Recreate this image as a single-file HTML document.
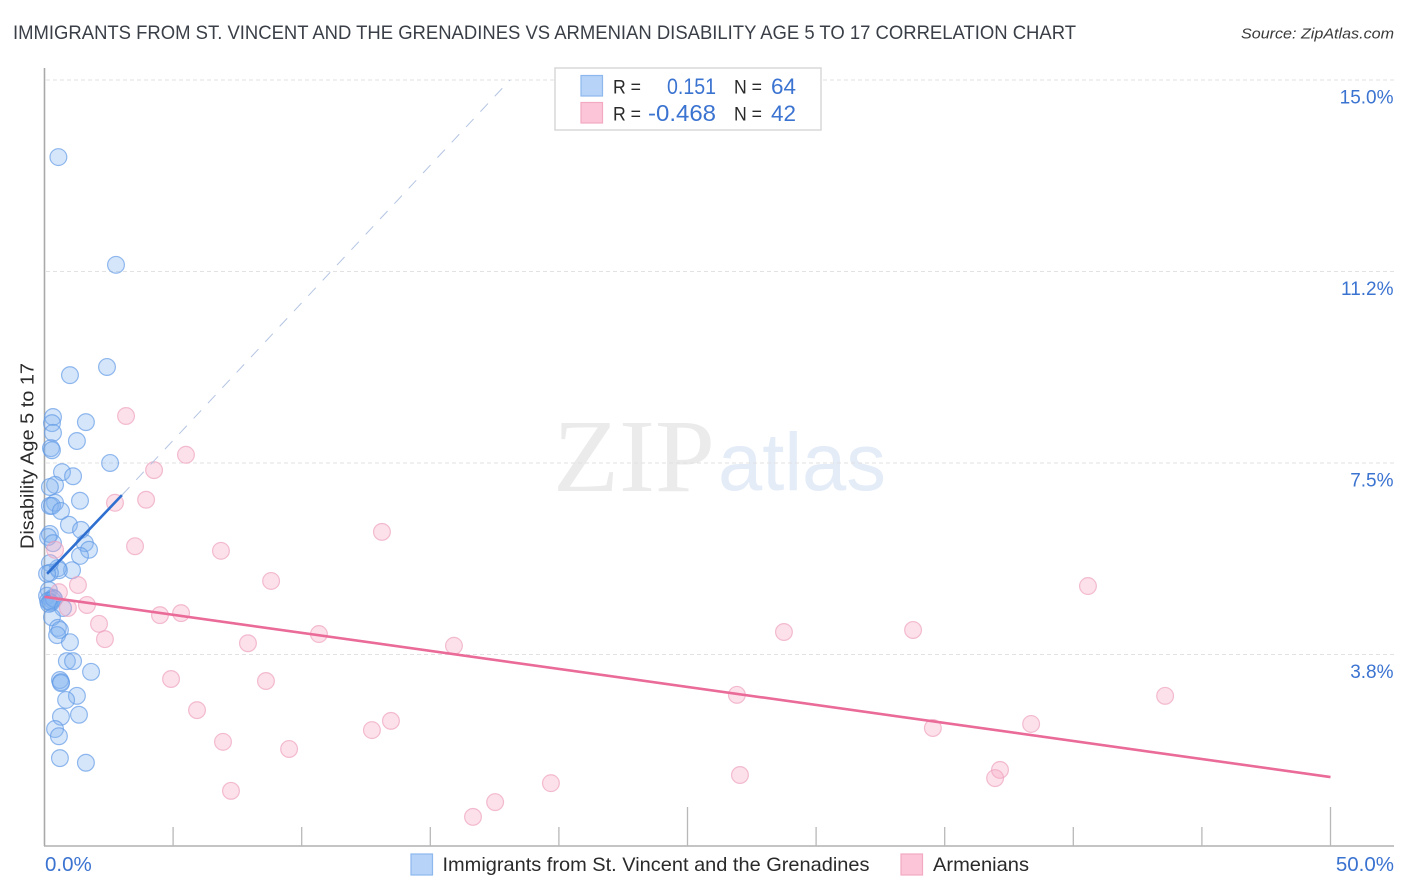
<!DOCTYPE html>
<html lang="en">
<head>
<meta charset="utf-8">
<title>Correlation Chart</title>
<style>
html,body{margin:0;padding:0;background:#fff;width:1406px;height:892px;overflow:hidden}
svg{display:block;font-family:"Liberation Sans",sans-serif}
</style>
</head>
<body>
<svg id="chart" width="1406" height="892" viewBox="0 0 1406 892" xmlns="http://www.w3.org/2000/svg">
  <text x="13" y="39" font-size="19.5" fill="#3a3f47" textLength="1063" lengthAdjust="spacingAndGlyphs">IMMIGRANTS FROM ST. VINCENT AND THE GRENADINES VS ARMENIAN DISABILITY AGE 5 TO 17 CORRELATION CHART</text>
  <text x="1241" y="38.500" font-size="15" font-style="italic" fill="#3a3a3a" textLength="153" lengthAdjust="spacingAndGlyphs">Source: ZipAtlas.com</text>
  <g>
    <text x="553" y="491" font-family="'Liberation Serif',serif" font-size="104" fill="#ebebeb" textLength="162" lengthAdjust="spacingAndGlyphs">ZIP</text>
    <text x="718" y="490" font-size="82" fill="#e4ecf8" textLength="168" lengthAdjust="spacingAndGlyphs">atlas</text>
  </g>
  <g id="grid"></g>
  <g id="axes"></g>
  <g id="points-blue"></g>
  <g id="points-pink"></g>
  <g id="trends"></g>
  <text transform="translate(33.500,549) rotate(-90)" font-size="18.500" fill="#2a2a2a" textLength="186" lengthAdjust="spacingAndGlyphs">Disability Age 5 to 17</text>

  <g>
    <rect x="555" y="68" width="266" height="62" fill="#fff" stroke="#d8d8d8" stroke-width="1.500"/>
    <rect x="581" y="75.500" width="21.500" height="20.500" fill="#b7d3f7" stroke="#8db8ee" stroke-width="1.200"/>
    <rect x="581" y="102.500" width="21.500" height="20.500" fill="#fcc6d8" stroke="#f3a9c2" stroke-width="1.200"/>
    <text x="613" y="93.500" font-size="19.500" fill="#2a2a2a" textLength="28" lengthAdjust="spacingAndGlyphs">R =</text>
    <text x="667" y="94" font-size="22" fill="#3b73d1" textLength="49" lengthAdjust="spacingAndGlyphs">0.151</text>
    <text x="734" y="93.500" font-size="19.500" fill="#2a2a2a" textLength="28" lengthAdjust="spacingAndGlyphs">N =</text>
    <text x="771" y="94" font-size="22" fill="#3b73d1" textLength="25" lengthAdjust="spacingAndGlyphs">64</text>
    <text x="613" y="120.500" font-size="19.500" fill="#2a2a2a" textLength="28" lengthAdjust="spacingAndGlyphs">R =</text>
    <text x="648" y="121" font-size="23" fill="#3b73d1" textLength="68" lengthAdjust="spacingAndGlyphs">-0.468</text>
    <text x="734" y="120.500" font-size="19.500" fill="#2a2a2a" textLength="28" lengthAdjust="spacingAndGlyphs">N =</text>
    <text x="771" y="121" font-size="22" fill="#3b73d1" textLength="25" lengthAdjust="spacingAndGlyphs">42</text>
  </g>

  <g>
    <rect x="411" y="854" width="21.500" height="21" fill="#b7d3f7" stroke="#8db8ee" stroke-width="1.200"/>
    <text x="442.500" y="871" font-size="19.500" fill="#2a2a2a" textLength="427" lengthAdjust="spacingAndGlyphs">Immigrants from St. Vincent and the Grenadines</text>
    <rect x="901" y="854" width="21.500" height="21" fill="#fcc6d8" stroke="#f3a9c2" stroke-width="1.200"/>
    <text x="933" y="871" font-size="19.500" fill="#2a2a2a" textLength="96" lengthAdjust="spacingAndGlyphs">Armenians</text>
  </g>
</svg>
<script>
const yTickValues = [15, 11.25, 7.5, 3.75];
const yTickLabels = ["15.0%", "11.2%", "7.5%", "3.8%"];
const xTickValues = [0, 5, 10, 15, 20, 25, 30, 35, 40, 45, 50];
const xMajorTicks = [25, 50];
const xEndLabels = ["0.0%", "50.0%"];

const blueX = [0.54,2.78,2.43,0.99,1.61,0.33,0.29,0.33,1.26,0.25,0.29,2.55,0.68,1.11,0.41,0.21,1.38,0.41,0.21,0.29,0.64,0.95,1.42,0.21,0.14,0.33,1.57,1.73,1.38,1.07,0.52,0.56,0.21,0.21,0.17,0.10,0.33,0.21,0.29,0.14,0.25,0.37,0.17,0.72,0.29,0.52,0.60,0.49,0.99,0.87,1.11,1.81,0.60,0.64,0.64,1.26,0.84,1.34,0.64,0.41,0.56,0.60,1.61,0.10];
const blueY = [13.49,11.38,9.38,9.22,8.30,8.40,8.28,8.09,7.93,7.79,7.75,7.50,7.32,7.24,7.07,7.03,6.76,6.72,6.66,6.66,6.56,6.29,6.19,6.11,6.05,5.93,5.93,5.80,5.68,5.40,5.44,5.40,5.54,5.35,5.01,4.90,4.86,4.78,4.82,4.80,4.76,4.84,4.74,4.66,4.48,4.27,4.23,4.13,3.99,3.62,3.62,3.41,3.25,3.21,3.19,2.94,2.86,2.57,2.53,2.29,2.15,1.72,1.63,5.33];
const pinkX = [3.17,5.50,4.26,3.95,2.74,3.52,6.86,13.12,0.41,8.81,1.30,0.56,40.57,1.65,0.91,4.49,5.31,2.12,2.35,10.67,7.91,15.92,28.75,33.77,4.92,8.61,26.92,43.57,5.93,12.73,13.47,34.54,38.36,6.94,9.51,37.15,36.96,27.04,7.25,19.69,17.52,16.66];
const pinkY = [8.42,7.66,7.36,6.78,6.72,5.87,5.78,6.15,5.80,5.19,5.11,4.97,5.09,4.72,4.66,4.52,4.56,4.35,4.05,4.15,3.97,3.92,4.19,4.23,3.27,3.23,2.96,2.94,2.66,2.27,2.45,2.31,2.39,2.04,1.90,1.49,1.33,1.39,1.08,1.23,0.86,0.57];

const blueTrendX = [0.10, 3.01];
const blueTrendY = [5.33, 6.87];
const blueDashX = [3.01, 18.1];
const blueDashY = [6.87, 15];
const pinkTrendX = [0, 50];
const pinkTrendY = [4.88, 1.35];

const NS = "http://www.w3.org/2000/svg";
function xScale(v) { return 44.5 + v * 25.72; }
function yScale(v) { return 846 - v * 51.07; }
function make(tag, attrs, parent) {
  const el = document.createElementNS(NS, tag);
  for (const k in attrs) el.setAttribute(k, attrs[k]);
  parent.appendChild(el);
  return el;
}

const grid = document.getElementById("grid");
const axes = document.getElementById("axes");
yTickValues.forEach((v, i) => {
  const line = make("line", {x1: 46, x2: 1394, y1: yScale(v), y2: yScale(v), stroke: "#e2e2e2", "stroke-width": 1, "stroke-dasharray": "4 3"}, grid);
  
  
  const label = make("text", {x: 1393.5, y: yScale(v) + 23.5, "text-anchor": "end", "font-size": 19, fill: "#3b73d1"}, axes);
  label.textContent = yTickLabels[i];
  
  
});

const yAxis = make("line", {x1: 44.5, x2: 44.5, y1: 68, y2: 846, stroke: "#a9a9a9", "stroke-width": 1.6}, axes);


const xAxis = make("line", {x1: 44, x2: 1394, y1: 846, y2: 846, stroke: "#b0b0b0", "stroke-width": 1.4}, axes);


xTickValues.forEach((v) => {
  if (v === 0) return;
  const top = xMajorTicks.includes(v) ? 807 : 827;
  const tick = make("line", {x1: xScale(v), x2: xScale(v), y1: top, y2: 846, stroke: "#b8b8b8", "stroke-width": 1.3}, axes);
  
  
});
const xLabelStart = make("text", {x: 45, y: 871, "font-size": 20.5, fill: "#3b73d1"}, axes);
xLabelStart.textContent = xEndLabels[0];


const xLabelEnd = make("text", {x: 1394, y: 871, "text-anchor": "end", "font-size": 20.5, fill: "#3b73d1"}, axes);
xLabelEnd.textContent = xEndLabels[1];



const blueGroup = document.getElementById("points-blue");
blueX.forEach((x, i) => {
  const c = make("circle", {cx: xScale(x), cy: yScale(blueY[i]), r: 8.4, fill: "rgba(130,178,240,0.33)", stroke: "rgba(96,154,230,0.68)", "stroke-width": 1.2}, blueGroup);
  
  
});
const pinkGroup = document.getElementById("points-pink");
pinkX.forEach((x, i) => {
  const c = make("circle", {cx: xScale(x), cy: yScale(pinkY[i]), r: 8.4, fill: "rgba(248,170,196,0.36)", stroke: "rgba(238,160,188,0.68)", "stroke-width": 1.2}, pinkGroup);
  
  
});

const trends = document.getElementById("trends");
const dash = make("line", {x1: xScale(blueDashX[0]), y1: yScale(blueDashY[0]), x2: xScale(blueDashX[1]), y2: yScale(blueDashY[1]), stroke: "#b4c4e2", "stroke-width": 1, "stroke-dasharray": "11 10"}, trends);


const blueLine = make("line", {x1: xScale(blueTrendX[0]), y1: yScale(blueTrendY[0]), x2: xScale(blueTrendX[1]), y2: yScale(blueTrendY[1]), stroke: "#2f6fd0", "stroke-width": 2.6}, trends);


const pinkLine = make("line", {x1: xScale(pinkTrendX[0]), y1: yScale(pinkTrendY[0]), x2: xScale(pinkTrendX[1]), y2: yScale(pinkTrendY[1]), stroke: "#ea6a98", "stroke-width": 2.6}, trends);


</script>
</body>
</html>
